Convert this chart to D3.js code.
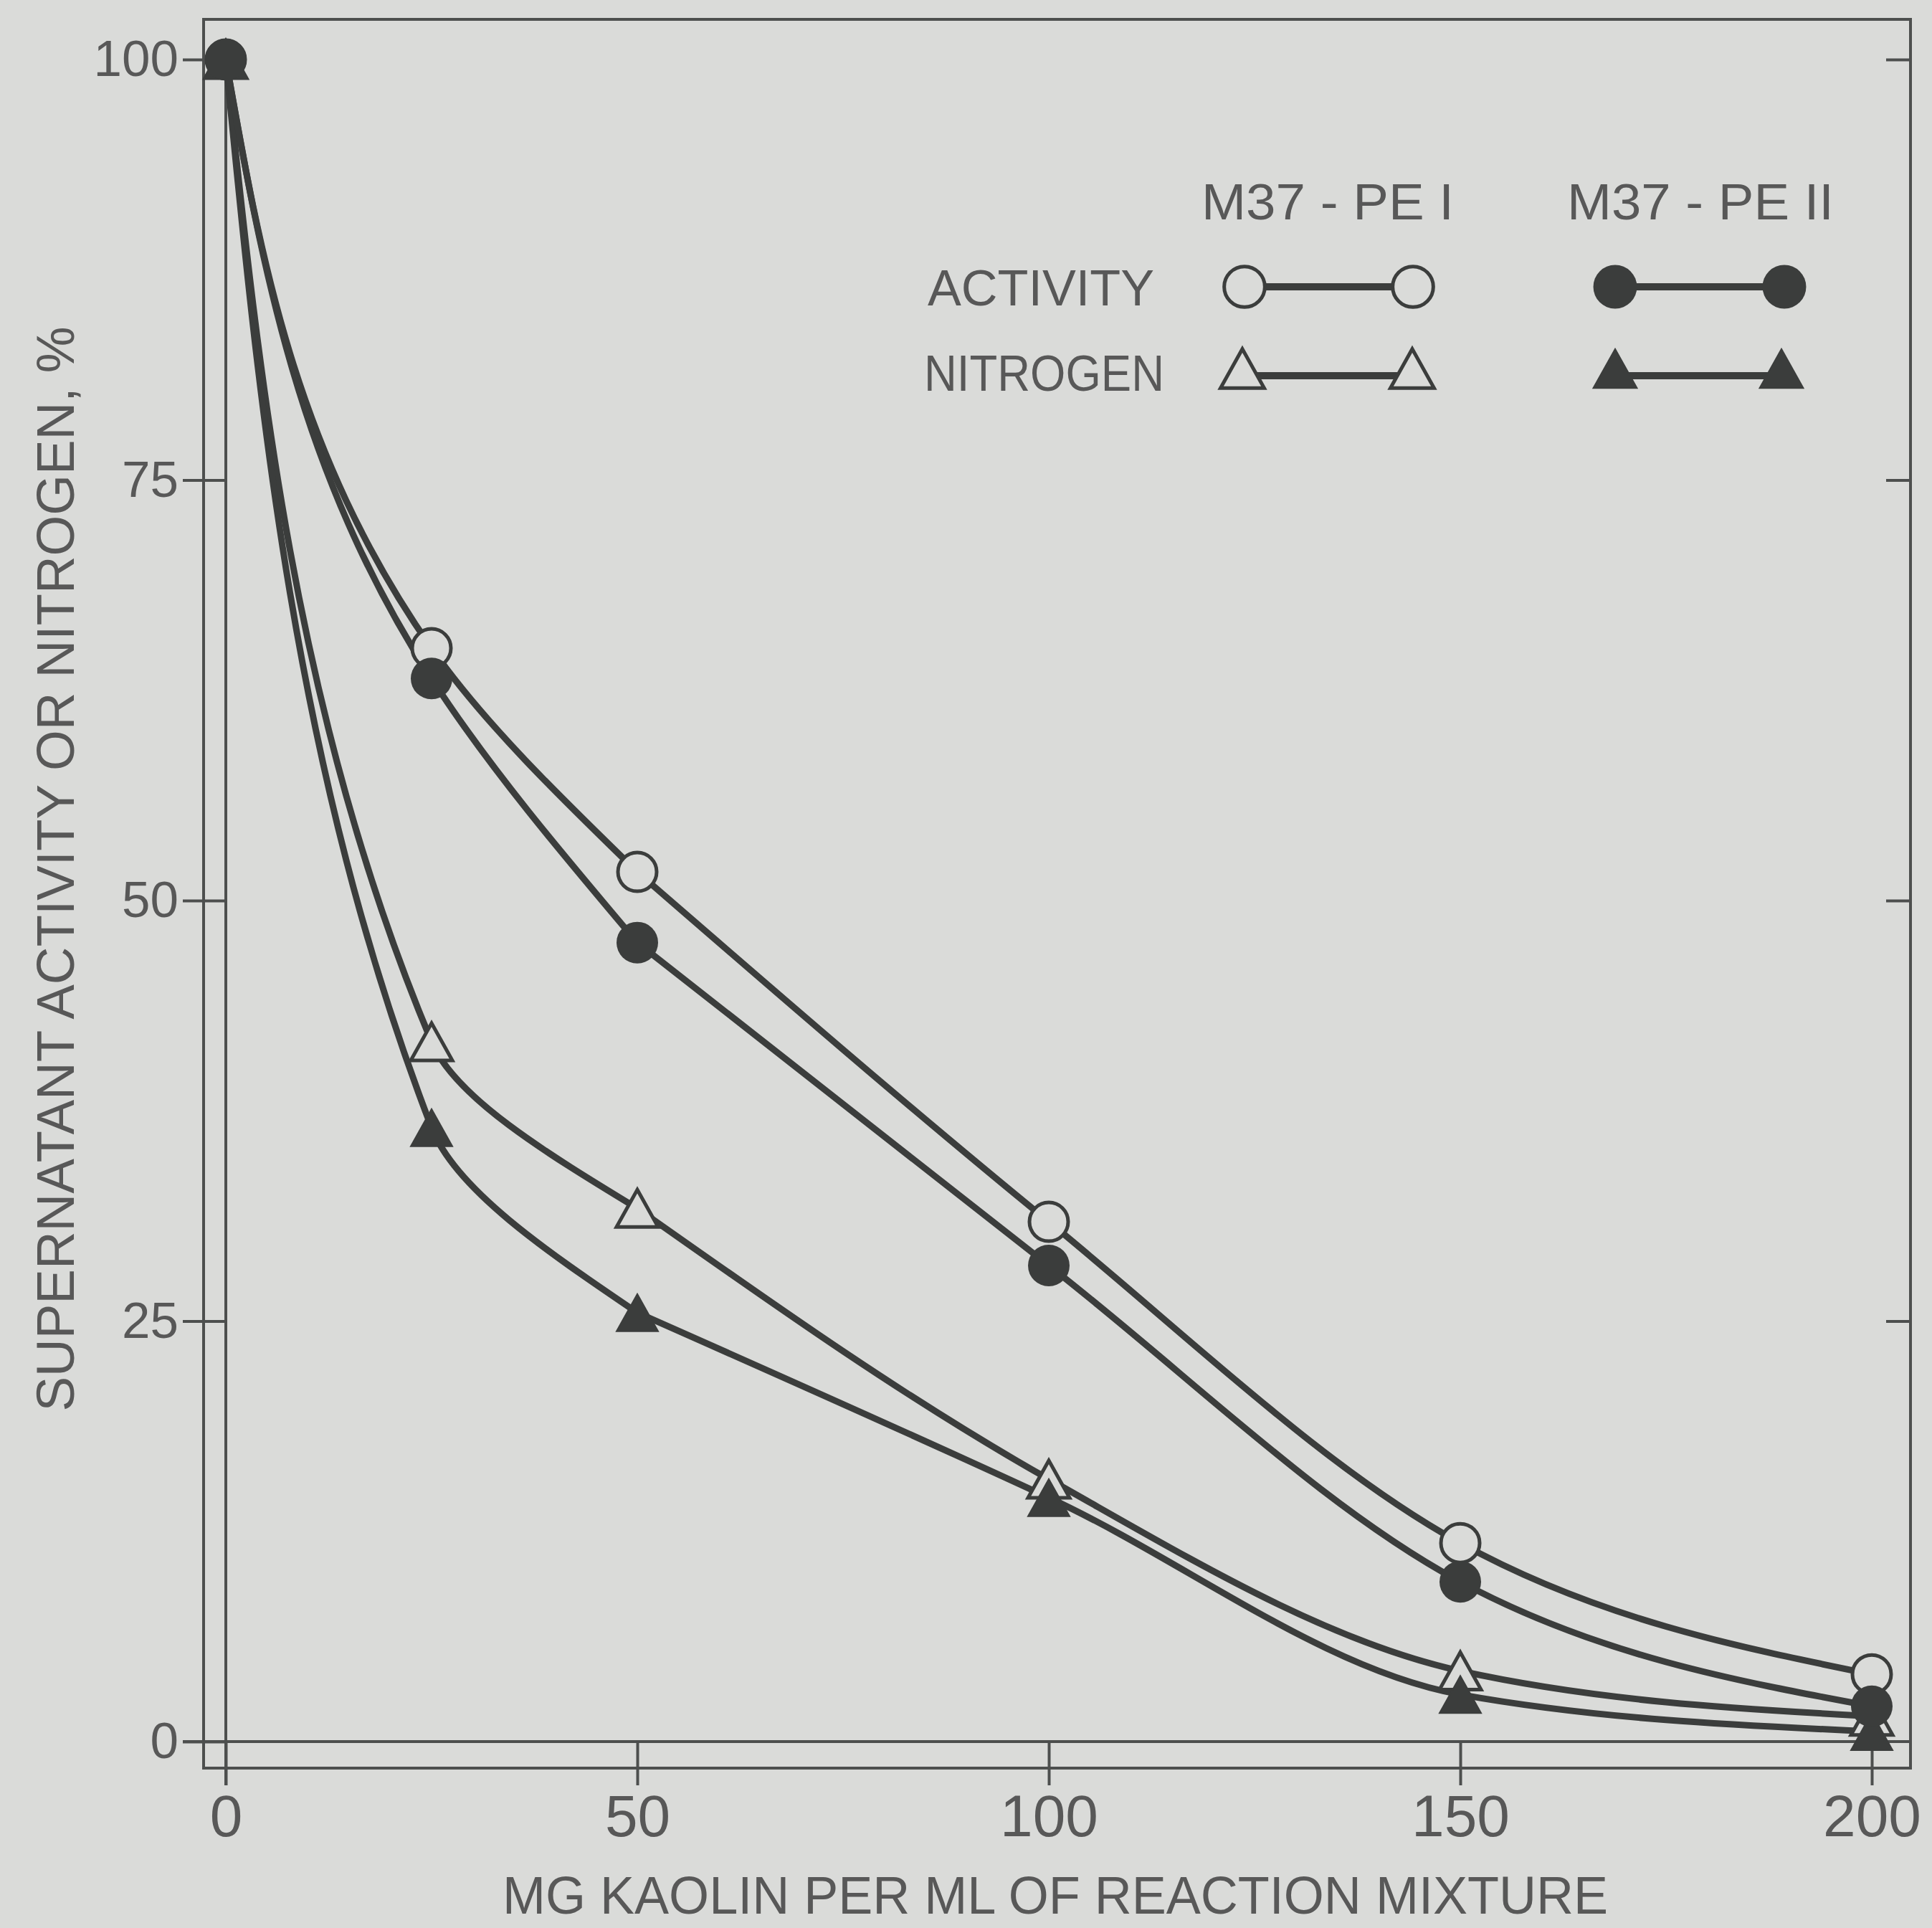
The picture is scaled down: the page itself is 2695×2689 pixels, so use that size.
<!DOCTYPE html>
<html>
<head>
<meta charset="utf-8">
<script src="https://cdn.jsdelivr.net/npm/d3@7"></script>
<style>
  body { margin: 0; background: #dadbd9; }
  svg { display: block; }
  text { font-family: "Liberation Sans", Arial, sans-serif; fill: #585858; }
</style>
</head>
<body>
<div id="chart"></div>
<script>
// kaolin dose (mg/ml) and % left in supernatant
const kaolin = [0, 25, 50, 100, 150, 200];
const activityPE1 = [100, 65, 51.7, 30.9, 11.8, 4.0];
const activityPE2 = [100, 63.2, 47.5, 28.3, 9.5, 2.1];
const nitrogenPE1 = [100, 41.6, 31.7, 15.6, 4.2, 1.5];
const nitrogenPE2 = [100, 36.5, 25.5, 14.5, 2.8, 0.6];

const xTicks = [0, 50, 100, 150, 200];
const yTicks = [0, 25, 50, 75, 100];
const rightTicks = [25, 50, 75, 100];

const width = 2695,
    height = 2689;

const ink = "#3b3d3c",
    paper = "#dadbd9",
    frameInk = "#4d4f4e";

const x = d3.scaleLinear().domain([0, 200]).range([315, 2611]);
const y = d3.scaleLinear().domain([0, 100]).range([2429, 83]);

const frame = { left: 284, right: 2665, top: 27, bottom: 2466 };

const svg = d3.select("#chart")
    .append("svg")
    .attr("width", width)
    .attr("height", height);

svg.append("rect")
    .attr("width", width)
    .attr("height", height)
    .attr("fill", paper);

// outer frame
svg.append("rect")
    .attr("x", frame.left)
    .attr("y", frame.top)
    .attr("width", frame.right - frame.left)
    .attr("height", frame.bottom - frame.top)
    .attr("fill", "none")
    .attr("stroke", frameInk)
    .attr("stroke-width", 4);

// inner axis lines
svg.append("line")
    .attr("x1", x(0)).attr("x2", x(0))
    .attr("y1", y(100)).attr("y2", frame.bottom + 24)
    .attr("stroke", frameInk).attr("stroke-width", 4);

svg.append("line")
    .attr("x1", x(0) - 60).attr("x2", frame.right)
    .attr("y1", y(0)).attr("y2", y(0))
    .attr("stroke", frameInk).attr("stroke-width", 4);

// axes
const yAxis = svg.append("g")
    .attr("transform", `translate(${x(0)},0)`)
    .call(d3.axisLeft(y).tickValues(yTicks).tickSize(60).tickPadding(6).tickFormat(d3.format("d")));

const xAxis = svg.append("g")
    .attr("transform", `translate(0,${y(0)})`)
    .call(d3.axisBottom(x).tickValues(xTicks).tickSize(61).tickPadding(13).tickFormat(d3.format("d")));

svg.append("g")
    .attr("transform", `translate(${frame.right},0)`)
    .call(d3.axisLeft(y).tickValues(rightTicks).tickSize(34).tickFormat(""));

svg.selectAll(".domain").remove();
svg.selectAll(".tick line").attr("stroke", frameInk).attr("stroke-width", 4);
yAxis.selectAll("text").style("font-size", "71px").attr("fill", "#585858");
xAxis.selectAll("text").style("font-size", "82px").attr("fill", "#585858");

// axis titles
svg.append("text")
    .attr("x", 1472)
    .attr("y", 2669)
    .attr("text-anchor", "middle")
    .attr("textLength", 1542)
    .attr("lengthAdjust", "spacingAndGlyphs")
    .style("font-size", "74px")
    .text("MG KAOLIN PER ML OF REACTION MIXTURE");

svg.append("text")
    .attr("transform", "translate(103,1212) rotate(-90)")
    .attr("text-anchor", "middle")
    .attr("textLength", 1513)
    .attr("lengthAdjust", "spacingAndGlyphs")
    .style("font-size", "75px")
    .text("SUPERNATANT ACTIVITY OR NITROGEN, %");

// series
const series = [
    { values: nitrogenPE1, shape: "triangle", filled: false },
    { values: nitrogenPE2, shape: "triangle", filled: true },
    { values: activityPE1, shape: "circle", filled: false },
    { values: activityPE2, shape: "circle", filled: true }
];

// steep start is smoothed along y so it hugs the axis, the flat tail along x
const headLine = d3.line()
    .x(d => x(d[0]))
    .y(d => y(d[1]))
    .curve(d3.curveMonotoneY);

const tailLine = d3.line()
    .x(d => x(d[0]))
    .y(d => y(d[1]))
    .curve(d3.curveMonotoneX);

const triangle = (w, h) => `M0,${-h / 2}L${w / 2},${h / 2}L${-w / 2},${h / 2}Z`;

series.forEach(s => {
    const pts = kaolin.map((k, i) => [k, s.values[i]]);
    svg.append("path")
        .datum(pts.slice(0, 3))
        .attr("d", headLine)
        .attr("fill", "none")
        .attr("stroke", ink)
        .attr("stroke-width", 9);
    svg.append("path")
        .datum(pts.slice(2))
        .attr("d", tailLine)
        .attr("fill", "none")
        .attr("stroke", ink)
        .attr("stroke-width", 9);
});

const drawMarker = (g, s, cx, cy, scale) => {
    if (s.shape === "circle") {
        g.append("circle")
            .attr("cx", cx).attr("cy", cy)
            .attr("r", (s.filled ? 29 : 27) * scale)
            .attr("fill", s.filled ? ink : paper)
            .attr("stroke", ink)
            .attr("stroke-width", s.filled ? 0 : 5);
    } else {
        g.append("path")
            .attr("transform", `translate(${cx},${cy})`)
            .attr("d", triangle(58 * scale, 52 * scale))
            .attr("fill", s.filled ? ink : paper)
            .attr("stroke", ink)
            .attr("stroke-width", s.filled ? 2 : 5)
            .attr("stroke-linejoin", "miter");
    }
};

const markers = svg.append("g");
series.forEach(s => {
    kaolin.forEach((k, i) => drawMarker(markers, s, x(k), y(s.values[i]), 1));
});

// legend
const legend = svg.append("g");
const legendText = [
    { label: "M37 - PE I", x: 1676, y: 306, len: 352 },
    { label: "M37 - PE II", x: 2186, y: 306, len: 372 },
    { label: "ACTIVITY", x: 1294, y: 426, len: 316 },
    { label: "NITROGEN", x: 1289, y: 545, len: 335 }
];
legendText.forEach(t => {
    legend.append("text")
        .attr("x", t.x).attr("y", t.y)
        .attr("textLength", t.len)
        .attr("lengthAdjust", "spacingAndGlyphs")
        .style("font-size", "71px")
        .text(t.label);
});

const legendRows = [
    { s: series[2], x1: 1736, x2: 1971, y: 400 },
    { s: series[3], x1: 2253, x2: 2489, y: 400 },
    { s: series[0], x1: 1733, x2: 1970, y: 514 },
    { s: series[1], x1: 2253, x2: 2485, y: 514 }
];
legendRows.forEach(r => {
    const ly = r.s.shape === "triangle" ? r.y + 10 : r.y;
    legend.append("line")
        .attr("x1", r.x1).attr("x2", r.x2)
        .attr("y1", ly).attr("y2", ly)
        .attr("stroke", ink).attr("stroke-width", 10);
    drawMarker(legend, r.s, r.x1, r.y, 1.05);
    drawMarker(legend, r.s, r.x2, r.y, 1.05);
});
</script>
</body>
</html>
